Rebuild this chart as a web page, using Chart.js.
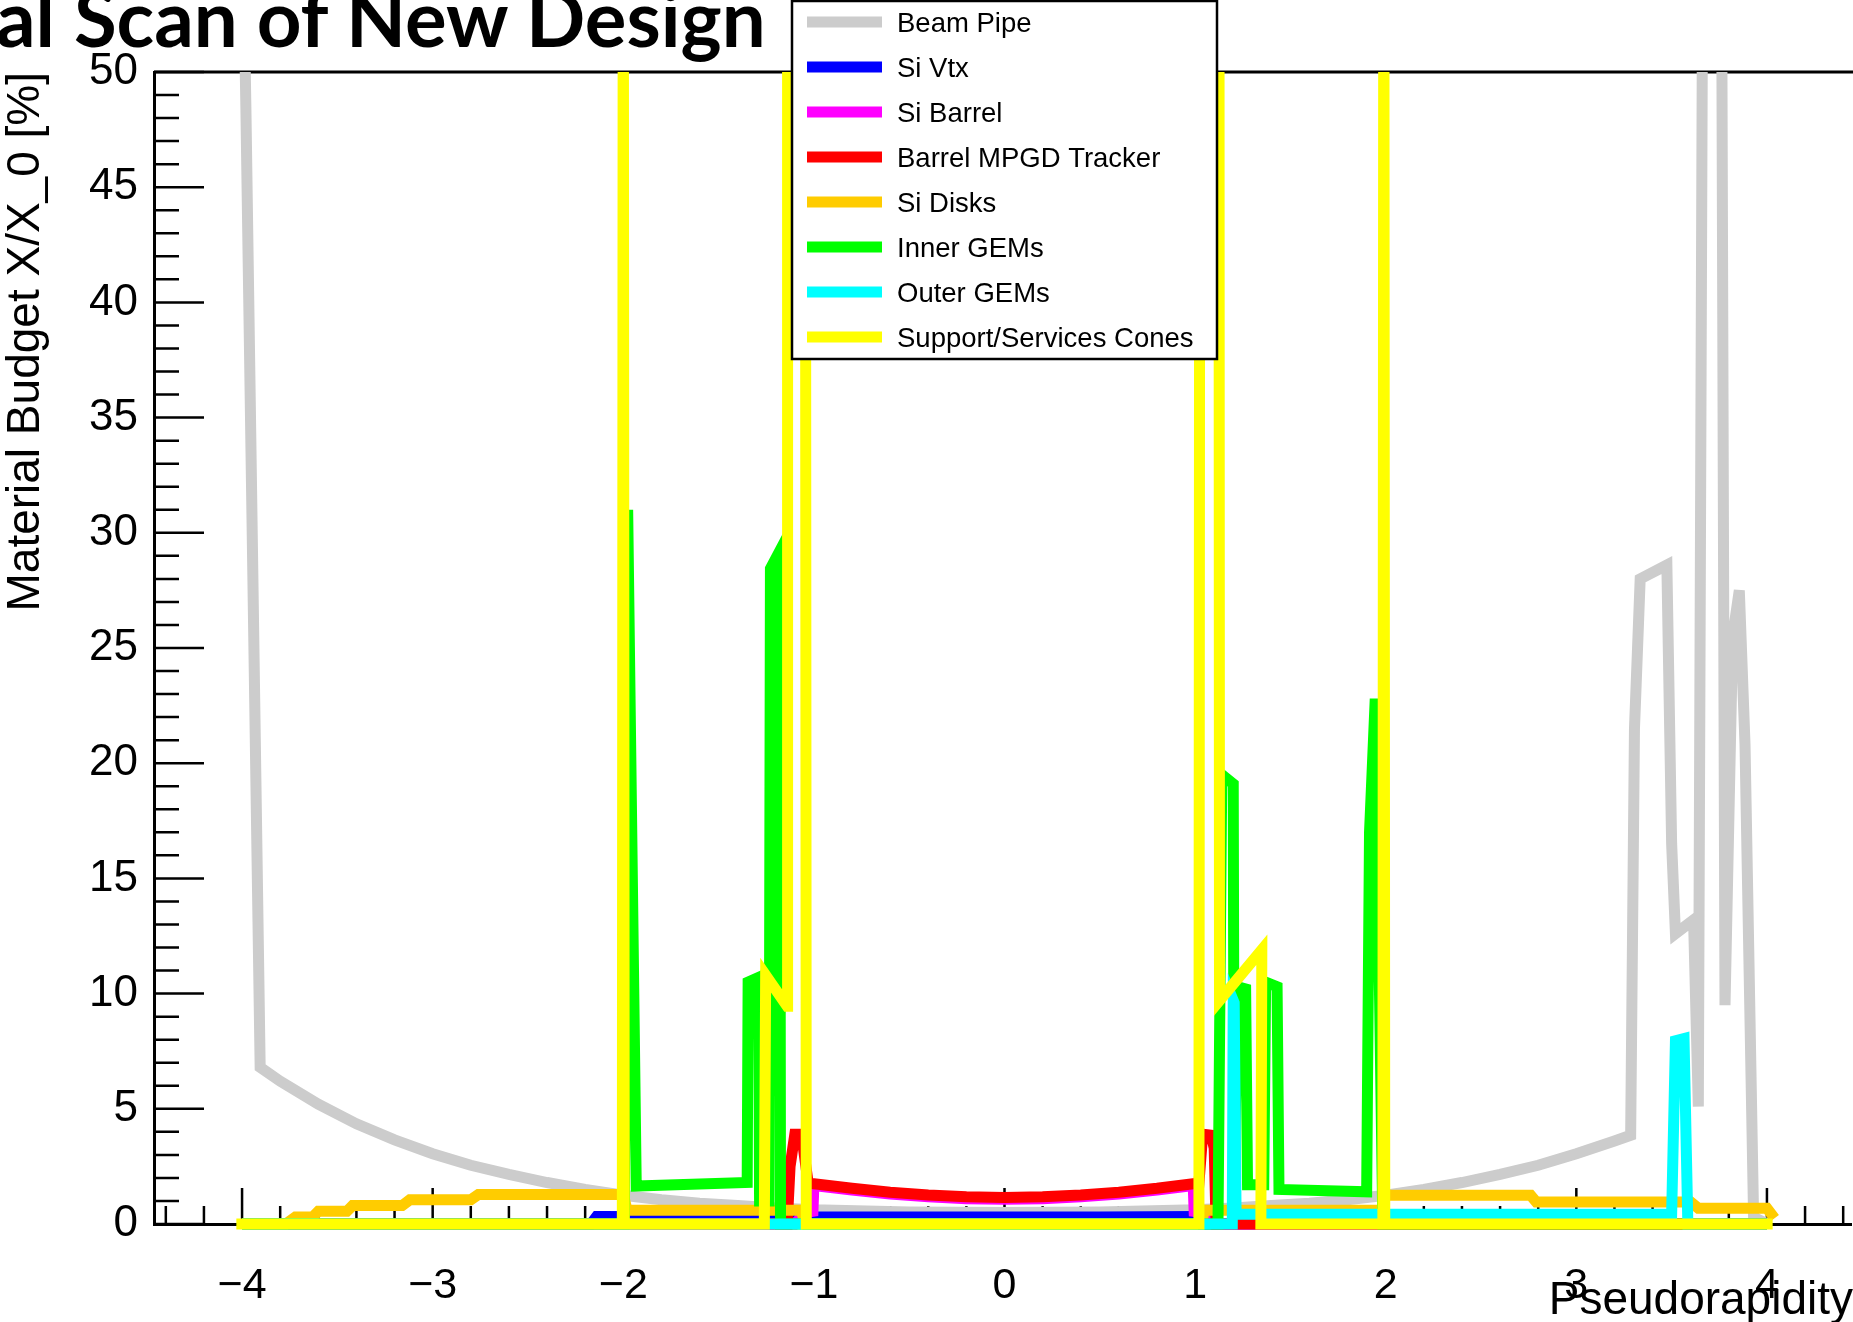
<!DOCTYPE html>
<html>
<head>
<meta charset="utf-8">
<title>Material Scan of New Design</title>
<script src="https://cdn.jsdelivr.net/npm/chart.js@4.4.0/dist/chart.umd.min.js"></script>
<style>
  html, body { margin: 0; padding: 0; background: #fff; }
  #wrap { position: relative; width: 1853px; height: 1322px; overflow: hidden; }
  #slideTitle {
    position: absolute; left: -4px; top: -22px;
    font-family: Lato, sans-serif; font-weight: 700; font-size: 78px;
    line-height: 1; white-space: nowrap; color: #000;
  }
  #scanChart { position: absolute; left: 0; top: 0; }
</style>
</head>
<body>
<div id="wrap">
  <div id="slideTitle">al Scan of New Design</div>
  <canvas id="scanChart" width="1853" height="1322"></canvas>
</div>
<script>
// Series names, in legend order
const seriesNames = ['Beam Pipe', 'Si Vtx', 'Si Barrel', 'Barrel MPGD Tracker',
    'Si Disks', 'Inner GEMs', 'Outer GEMs', 'Support/Services Cones'];

// Beam Pipe
const beamPipeEta = [-4.0, -3.98, -3.905, -3.8, -3.6, -3.4, -3.2, -3.0, -2.8, -2.6, -2.4, -2.2, -2.0, -1.8, -1.6,
    -1.4, -1.2, -1.0, -0.5, 0, 0.5, 1.0, 1.2, 1.4, 1.6, 1.8, 2.0, 2.2, 2.4, 2.6, 2.8, 3.0, 3.2,
    3.285, 3.305, 3.335, 3.475, 3.5, 3.52, 3.615, 3.64, 3.665, 3.76, 3.78, 3.82, 3.855, 3.885, 3.93, 4.0];
const beamPipeX0 = [58, 48.5, 6.8, 6.2, 5.2, 4.35, 3.65, 3.05, 2.55, 2.15, 1.8, 1.5, 1.25, 1.05, 0.9,
    0.8, 0.7, 0.62, 0.52, 0.5, 0.52, 0.62, 0.7, 0.8, 0.9, 1.05, 1.25, 1.5, 1.8, 2.15, 2.55, 3.05, 3.6,
    3.85, 21.5, 28.0, 28.6, 16.5, 12.6, 13.2, 5.1, 60, 60, 9.5, 25.5, 27.5, 20.8, 0.3, 0];

// Si Vtx
const siVtxEta = [-4.0, -2.17, -2.14, -1.5, -1.0, -0.5, 0, 0.5, 1.0, 1.03, 4.0];
const siVtxX0 = [0, 0, 0.33, 0.32, 0.3, 0.3, 0.3, 0.3, 0.33, 0, 0];

// Si Barrel
const siBarrelEta = [-4.0, -1.1, -1.045, -1.005, -1.0, -0.8, -0.6, -0.4, -0.2, 0, 0.2, 0.4, 0.6, 0.8,
    0.99, 0.995, 1.04, 1.1, 4.0];
const siBarrelX0 = [0, 0, 0.5, 0.55, 1.67, 1.47, 1.3, 1.18, 1.1, 1.07, 1.1, 1.18, 1.3, 1.47,
    1.67, 0.55, 0.5, 0, 0];

// Barrel MPGD Tracker
const mpgdEta = [-4.0, -1.14, -1.125, -1.1, -1.065, -1.03, -1.0, -0.8, -0.6, -0.4, -0.2, 0, 0.2, 0.4,
    0.6, 0.8, 0.99, 1.02, 1.04, 1.085, 1.1, 1.11, 4.0];
const mpgdX0 = [0, 0, 2.5, 3.9, 3.9, 1.78, 1.75, 1.55, 1.38, 1.26, 1.18, 1.15, 1.18, 1.26,
    1.38, 1.55, 1.75, 1.78, 3.9, 3.85, 3.3, 0, 0];

// Si Disks
const siDisksEta = [-4.0, -3.77, -3.72, -3.63, -3.6, -3.45, -3.42, -3.16, -3.12, -2.8, -2.76, -2.0, -1.98,
    -1.07, -1.04, 1.03, 1.05, 1.98, 2.0, 2.76, 2.79, 3.6, 3.64, 4.0, 4.04];
const siDisksX0 = [0, 0, 0.3, 0.3, 0.55, 0.55, 0.8, 0.8, 1.05, 1.05, 1.28, 1.28, 0.6,
    0.6, 0, 0, 0.6, 0.6, 1.25, 1.25, 0.95, 0.95, 0.68, 0.68, 0.25];

// Inner GEMs
const innerGemEta = [-4.0, -1.995, -1.977, -1.932, -1.35, -1.345, -1.29, -1.285, -1.235, -1.228, -1.18, -1.175,
    1.12, 1.14, 1.2, 1.205, 1.222, 1.265, 1.275, 1.36, 1.37, 1.43, 1.44, 1.9, 1.915, 1.945, 1.985, 4.0];
const innerGemX0 = [0, 0, 31.0, 1.65, 1.8, 10.5, 10.7, 1.0, 1.0, 28.45, 29.2, 0,
    0, 19.5, 19.1, 1.7, 10.3, 10.2, 1.7, 1.7, 10.5, 10.3, 1.5, 1.4, 17, 22.8, 0, 0];

// Outer GEMs
const outerGemEta = [-4.0, 1.195, 1.2, 1.205, 1.215, 3.5, 3.52, 3.565, 3.585, 4.0];
const outerGemX0 = [0, 0, 9.7, 9.6, 0.42, 0.42, 7.95, 8.05, 0, 0];

// Support/Services Cones
const conesEta = [-4.03, -2.005, -2.0, -1.995, -1.26, -1.253, -1.14, -1.138, -1.045, -1.04,
    1.02, 1.025, 1.125, 1.128, 1.35, 1.345, 1.985, 1.99, 1.995, 4.03];
const conesX0 = [0, 0, 60, 0, 0, 10.8, 9.45, 60, 60, 0,
    0, 60, 60, 9.7, 11.9, 0, 0, 60, 0, 0];

const seriesEta = [beamPipeEta, siVtxEta, siBarrelEta, mpgdEta, siDisksEta, innerGemEta, outerGemEta, conesEta];
const seriesX0 = [beamPipeX0, siVtxX0, siBarrelX0, mpgdX0, siDisksX0, innerGemX0, outerGemX0, conesX0];

const seriesColors = ['#cccccc', '#0000ff', '#ff00ff', '#ff0000', '#ffcc00', '#00ff00', '#00ffff', '#ffff00'];
const labelFont = 'Liberation Sans';
const xTitle = 'Pseudorapidity';

const isWhole = v => Math.abs(v - Math.round(v)) < 1e-6;

// ROOT style: ticks inside the frame, top frame line, x labels, boxed legend
const rootFrame = {
    id: 'rootFrame',
    beforeDatasetsDraw(chart) {
        const { ctx, chartArea: a, scales: { x, y } } = chart;
        ctx.save();
        ctx.strokeStyle = '#000';
        ctx.lineWidth = 2.5;
        ctx.beginPath();
        x.ticks.forEach(t => {
            const px = x.getPixelForValue(t.value);
            const len = isWhole(t.value) ? 36 : 18;
            ctx.moveTo(px, a.bottom);
            ctx.lineTo(px, a.bottom - len);
        });
        y.ticks.forEach(t => {
            const py = y.getPixelForValue(t.value);
            const len = t.value % 5 === 0 ? 50 : 25;
            ctx.moveTo(a.left, py);
            ctx.lineTo(a.left + len, py);
        });
        ctx.stroke();
        ctx.lineWidth = 3;
        ctx.beginPath();
        ctx.moveTo(a.left, a.top);
        ctx.lineTo(a.right + 4, a.top);
        ctx.stroke();
        ctx.restore();
    },
    afterDraw(chart) {
        const { ctx, chartArea: a, scales: { x } } = chart;
        ctx.save();
        // x tick labels and axis title
        ctx.fillStyle = '#000';
        ctx.textBaseline = 'alphabetic';
        ctx.textAlign = 'center';
        ctx.font = '43px "' + labelFont + '"';
        x.ticks.forEach(t => {
            if (!isWhole(t.value)) return;
            const txt = String(Math.round(t.value)).replace('-', '\u2212');
            ctx.fillText(txt, x.getPixelForValue(t.value), a.bottom + 74);
        });
        ctx.textAlign = 'right';
        ctx.font = '46px "' + labelFont + '"';
        ctx.fillText(xTitle, a.right + 2, a.bottom + 90);

        // legend box
        ctx.textAlign = 'left';
        ctx.fillStyle = '#fff';
        ctx.fillRect(792, 1, 425, 358);
        ctx.strokeStyle = '#000';
        ctx.lineWidth = 2.5;
        ctx.strokeRect(792, 1, 425, 358);
        ctx.font = '27.5px "' + labelFont + '"';
        chart.data.datasets.forEach((ds, i) => {
            const yc = 22 + 45 * i;
            ctx.strokeStyle = ds.borderColor;
            ctx.lineWidth = 11;
            ctx.beginPath();
            ctx.moveTo(807, yc);
            ctx.lineTo(882, yc);
            ctx.stroke();
            ctx.fillStyle = '#000';
            ctx.fillText(ds.label, 897, yc + 10);
        });
        ctx.restore();
    }
};

const datasets = seriesNames.map((name, i) => ({
    label: name,
    data: seriesEta[i].map((eta, j) => ({ x: eta, y: seriesX0[i][j] })),
    borderColor: seriesColors[i],
    backgroundColor: seriesColors[i],
    borderWidth: 11,
    borderJoinStyle: 'miter',
    pointRadius: 0,
    showLine: true,
    fill: false,
    tension: 0,
    clip: { left: 8, top: 0, right: 8, bottom: 8 },
    order: seriesNames.length - i
}));

const ctx = document.getElementById('scanChart').getContext('2d');
new Chart(ctx, {
    type: 'scatter',
    data: { datasets: datasets },
    options: {
        responsive: false,
        animation: false,
        events: [],
        layout: { autoPadding: false, padding: { top: 72, right: 2, bottom: 0, left: 0 } },
        plugins: {
            legend: { display: false },
            tooltip: { enabled: false }
        },
        scales: {
            x: {
                type: 'linear',
                min: -4.462,
                max: 4.441,
                afterFit: s => { s.height = 98; s.paddingLeft = 0; s.paddingRight = 0; },
                grid: { display: false, drawTicks: false },
                border: { display: true, color: '#000', width: 3 },
                ticks: {
                    display: false,
                    stepSize: 0.2,
                    includeBounds: false,
                    autoSkip: false
                },
                title: { display: false }
            },
            y: {
                type: 'linear',
                min: 0,
                max: 50,
                afterFit: s => { s.width = 154; s.paddingTop = 0; s.paddingBottom = 0; },
                grid: { display: false, drawTicks: false },
                border: { display: true, color: '#000', width: 3 },
                ticks: {
                    stepSize: 1,
                    autoSkip: false,
                    padding: 16,
                    color: '#000',
                    font: { family: labelFont, size: 44 },
                    callback: v => v % 5 === 0 ? String(v) : ''
                },
                title: {
                    display: true,
                    text: 'Material Budget X/X_0 [%]',
                    align: 'end',
                    color: '#000',
                    font: { family: labelFont, size: 46, lineHeight: 1 },
                    padding: { top: 3, bottom: 0 }
                }
            }
        }
    },
    plugins: [rootFrame]
});
</script>
</body>
</html>
